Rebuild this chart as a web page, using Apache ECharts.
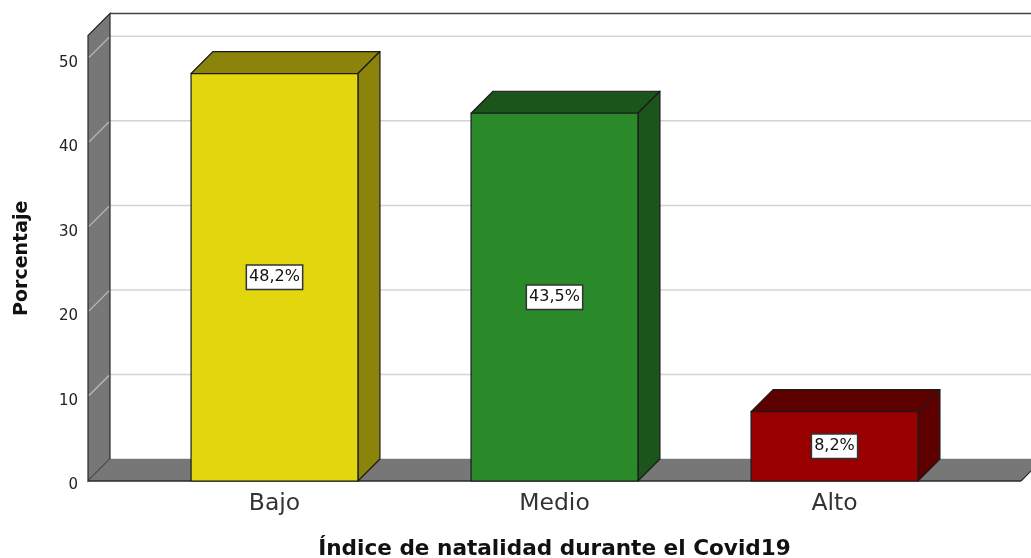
<!DOCTYPE html>
<html>
<head>
<meta charset="utf-8">
<script src="https://cdn.jsdelivr.net/npm/echarts@6/dist/echarts.min.js"></script>
<style>
  html, body { margin: 0; padding: 0; background: #fff; }
  #chart { width: 1031px; height: 558px; }
</style>
</head>
<body>
<div id="chart"></div>
<script>
// data
const categories = ['Bajo', 'Medio', 'Alto'];
const percentages = [48.2, 43.5, 8.2];
const yTicks = [0, 10, 20, 30, 40, 50];

const faceColors = ['#E2D60F', '#2A8A2A', '#990000'];
const shadeColors = ['#8B830A', '#1B551B', '#5E0000'];

const DEPTH = 22;       // 3d offset of the back plane
const WALL_PAD = 46.5;  // wall distance from the outer category bands
const BAR_RATIO = 0.596;
const FONT = 'DejaVu Sans';

const chartDom = document.getElementById('chart');
const myChart = echarts.init(chartDom);

const fmt = (v) => v.toFixed(1).replace('.', ',') + '%';

function renderWalls(params, api) {
  const cs = params.coordSys;
  const lf = cs.x - WALL_PAD;                 // left front
  const rf = cs.x + cs.width + WALL_PAD;      // right front
  const y0 = api.coord([0, 0])[1];
  const yTop = cs.y;
  const children = [];
  // back wall grid lines
  yTicks.forEach((v) => {
    const y = api.coord([0, v])[1];
    children.push({
      type: 'line',
      shape: { x1: lf + DEPTH, y1: y - DEPTH, x2: rf + DEPTH, y2: y - DEPTH },
      style: { stroke: '#D4D4D4', lineWidth: 1.5 },
    });
  });
  // back wall top edge
  children.push({
    type: 'line',
    shape: { x1: lf + DEPTH, y1: yTop - DEPTH, x2: rf + DEPTH, y2: yTop - DEPTH },
    style: { stroke: '#444', lineWidth: 1.5 },
  });
  // left wall
  children.push({
    type: 'polygon',
    shape: { points: [[lf, y0], [lf, yTop], [lf + DEPTH, yTop - DEPTH], [lf + DEPTH, y0 - DEPTH]] },
    style: { fill: '#777777', stroke: '#2a2a2a', lineWidth: 1.2 },
  });
  // floor
  children.push({
    type: 'polygon',
    shape: { points: [[lf, y0], [lf + DEPTH, y0 - DEPTH], [rf + DEPTH, y0 - DEPTH], [rf, y0]] },
    style: { fill: '#777777' },
  });
  children.push({
    type: 'line',
    shape: { x1: lf, y1: y0, x2: rf, y2: y0 },
    style: { stroke: '#2a2a2a', lineWidth: 1.5 },
  });
  children.push({
    type: 'line',
    shape: { x1: rf, y1: y0, x2: rf + DEPTH, y2: y0 - DEPTH },
    style: { stroke: '#2a2a2a', lineWidth: 1.2 },
  });
  // grid lines over the left wall
  yTicks.slice(1).forEach((v) => {
    const y = api.coord([0, v])[1];
    children.push({
      type: 'line',
      shape: { x1: lf + 1, y1: y - 1, x2: lf + DEPTH - 1, y2: y - DEPTH + 1 },
      style: { stroke: '#BDBDBD', lineWidth: 1.2 },
    });
  });
  return { type: 'group', children };
}

function renderBar(params, api) {
  const idx = params.dataIndex;
  const val = api.value(1);
  const top = api.coord([api.value(0), val]);
  const base = api.coord([api.value(0), 0]);
  const bw = api.size([1, 0])[0] * BAR_RATIO;
  const x0 = top[0] - bw / 2;
  const x1 = top[0] + bw / 2;
  const y0 = top[1];
  const y1 = base[1];
  const edge = { stroke: '#1a1a1a', lineWidth: 1.2, lineJoin: 'round' };
  return {
    type: 'group',
    children: [
      {
        type: 'polygon',
        shape: { points: [[x0, y0], [x0 + DEPTH, y0 - DEPTH], [x1 + DEPTH, y0 - DEPTH], [x1, y0]] },
        style: Object.assign({ fill: shadeColors[idx] }, edge),
      },
      {
        type: 'polygon',
        shape: { points: [[x1, y0], [x1 + DEPTH, y0 - DEPTH], [x1 + DEPTH, y1 - DEPTH], [x1, y1]] },
        style: Object.assign({ fill: shadeColors[idx] }, edge),
      },
      {
        type: 'rect',
        shape: { x: x0, y: y0, width: bw, height: y1 - y0 },
        style: Object.assign({ fill: faceColors[idx] }, edge),
      },
      {
        type: 'text',
        x: top[0],
        y: (y0 + y1) / 2,
        style: {
          text: fmt(val),
          font: '16px "' + FONT + '"',
          fill: '#111',
          align: 'center',
          verticalAlign: 'middle',
          backgroundColor: '#fff',
          borderColor: '#333',
          borderWidth: 1.5,
          padding: [4, 2, 3, 2],
        },
      },
    ],
  };
}

myChart.setOption({
  animation: false,
  backgroundColor: '#fff',
  grid: {
    left: 134.5,
    right: 56.5,
    top: 35.5,
    bottom: 77,
    containLabel: false,
    outerBoundsMode: 'none',
  },
  xAxis: {
    type: 'category',
    data: categories,
    axisLine: { show: false },
    axisTick: { show: false },
    axisLabel: {
      margin: 11,
      color: '#333',
      fontFamily: FONT,
      fontSize: 23.5,
    },
    name: 'Índice de natalidad durante el Covid19',
    nameLocation: 'middle',
    nameGap: 57,
    nameTextStyle: {
      color: '#111',
      fontFamily: FONT,
      fontSize: 21.6,
      fontWeight: 'bold',
    },
  },
  yAxis: {
    type: 'value',
    min: 0,
    max: 52.7,
    interval: 10,
    offset: WALL_PAD,
    axisLine: { show: false },
    axisTick: { show: false },
    splitLine: { show: false },
    axisLabel: {
      margin: 10,
      color: '#222',
      fontFamily: FONT,
      fontSize: 15,
      formatter: (v) => (v % 10 === 0 ? '{t|' + v + '}' : ''),
      rich: {
        t: {
          color: '#222',
          fontFamily: FONT,
          fontSize: 15,
          padding: [9, 0, 0, 0],
        },
      },
    },
    name: 'Porcentaje',
    nameLocation: 'middle',
    nameGap: 56,
    nameRotate: 90,
    nameTextStyle: {
      color: '#111',
      fontFamily: FONT,
      fontSize: 19,
      fontWeight: 'bold',
    },
  },
  series: [
    {
      type: 'custom',
      renderItem: renderWalls,
      data: [[0, 0]],
      z: 1,
      silent: true,
    },
    {
      type: 'custom',
      renderItem: renderBar,
      encode: { x: 0, y: 1 },
      data: percentages.map((v, i) => [i, v]),
      z: 2,
    },
  ],
});

window.onresize = () => {
  myChart.resize();
};
</script>
</body>
</html>
